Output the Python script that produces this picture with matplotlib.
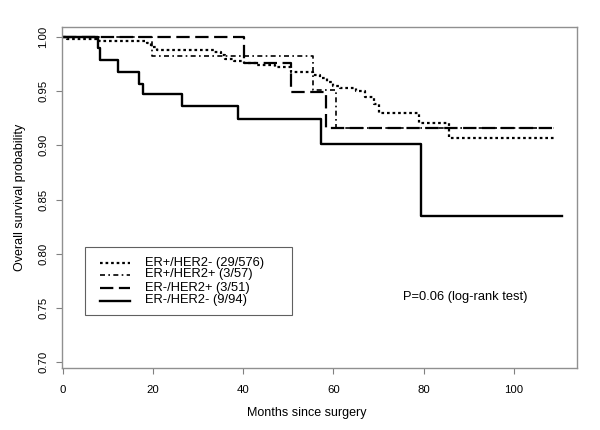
import matplotlib
matplotlib.use("Agg")
import matplotlib.pyplot as plt
from matplotlib.patches import Rectangle
from matplotlib.lines import Line2D

plt.rcParams['font.family'] = ['Liberation Sans', 'DejaVu Sans']

# Kaplan-Meier step data (time in months, survival after step)
t_erp_her2n = [0, 1.0, 8.0, 18.6, 19.5, 20.8, 33.6, 35.0, 36.0, 38.0, 40.2, 43.0, 47.0,
               50.6, 55.5, 57.0, 58.5, 60.0, 61.5, 65.0, 67.0, 69.0, 70.0, 79.0, 85.7, 109.0]
s_erp_her2n = [1.0, 0.998, 0.9965, 0.994, 0.991, 0.988, 0.986, 0.983, 0.980, 0.978, 0.976, 0.974, 0.972,
               0.968, 0.965, 0.962, 0.958, 0.955, 0.9527, 0.950, 0.945, 0.938, 0.930, 0.921, 0.907, 0.907]

t_erp_her2p = [0, 19.7, 55.5, 60.6, 109.0]
s_erp_her2p = [1.0, 0.9825, 0.951, 0.916, 0.916]

t_ern_her2p = [0, 40.2, 50.6, 58.4, 109.0]
s_ern_her2p = [1.0, 0.976, 0.9495, 0.916, 0.916]

t_ern_her2n = [0, 7.7, 8.2, 12.2, 16.9, 17.7, 26.3, 38.9, 57.3, 79.5, 110.7]
s_ern_her2n = [1.0, 0.9894, 0.9787, 0.968, 0.957, 0.947, 0.936, 0.924, 0.901, 0.835, 0.835]

labels = ["ER+/HER2- (29/576)", "ER+/HER2+ (3/57)", "ER-/HER2+ (3/51)", "ER-/HER2- (9/94)"]
x_ticks = [0, 20, 40, 60, 80, 100]
y_ticks = [0.70, 0.75, 0.80, 0.85, 0.90, 0.95, 1.00]

styles = [
    dict(linestyle=(0, (1.2, 1.3)), linewidth=1.6),
    dict(linestyle=(0, (3, 2, 1, 2)), linewidth=1.2),
    dict(linestyle=(0, (6, 2.5)), linewidth=1.6),
    dict(linestyle='-', linewidth=1.7),
]

fig = plt.figure(figsize=(6, 4.3), dpi=100)
ax = fig.add_axes([62/600, 1-368/430, (577-62)/600, (368-27)/430])

series = [(t_erp_her2n, s_erp_her2n), (t_erp_her2p, s_erp_her2p),
          (t_ern_her2p, s_ern_her2p), (t_ern_her2n, s_ern_her2n)]
for (t, s), st in zip(series, styles):
    ax.step(t, s, where='post', color='black', **st)

ax.set_xlim(-0.2, 114)
ax.set_ylim(0.6946, 1.0092)
ax.set_xticks(x_ticks)
ax.set_xticklabels([str(v) for v in x_ticks])
ax.set_yticks(y_ticks)
ax.set_yticklabels([f"{v:.2f}" for v in y_ticks], rotation=90, va='center')
ax.tick_params(direction='out', length=4, width=0.8, color='#808080', labelsize=8.2)
ax.tick_params(axis='x', pad=8)
ax.tick_params(axis='y', pad=6)
for sp in ax.spines.values():
    sp.set_color('#909090')
    sp.set_linewidth(1.0)

fig.text(307/600, 1-413/430, "Months since surgery", fontsize=9, va='center', ha='center')
ax.set_ylabel("Overall survival probability", fontsize=9, labelpad=9)

# legend box
fig.patches.append(Rectangle((85/600, 1-315/430), (292-85)/600, (315-247)/430,
                             transform=fig.transFigure, fill=False, edgecolor='#606060',
                             linewidth=0.8))
ys = [262.7, 274.5, 287.5, 300.5]
for lab, st, yy in zip(labels, styles, ys):
    fy = 1 - yy/430
    fig.lines.append(Line2D([100/600, 130/600], [fy, fy], transform=fig.transFigure,
                            color='black', **st))
    fig.text(145/600, fy, lab, fontsize=9.3, va='center', ha='left')

fig.text(403/600, 1-297/430, "P=0.06 (log-rank test)", fontsize=9.3, va='center', ha='left')

fig.savefig("out.png", dpi=100)
